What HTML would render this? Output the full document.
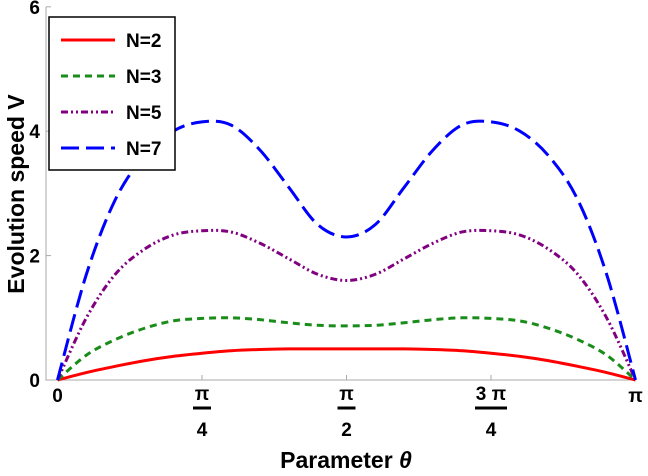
<!DOCTYPE html>
<html><head><meta charset="utf-8"><style>
body{margin:0;background:#fff}
text{font-family:"Liberation Sans",sans-serif;font-weight:bold}
</style></head><body>
<svg id="c" width="648" height="471">
<g id="g"></g>
</svg>
<script>
const thetaFrac=[0,0.05,0.1,0.15,0.2,0.25,0.3,0.35,0.4,0.45,0.5,0.55,0.6,0.65,0.7,0.75,0.8,0.85,0.9,0.95,1];
const half2=[0,0.12,0.22,0.31,0.38,0.43,0.47,0.49,0.5,0.5,0.5];
const half3=[0,0.4,0.65,0.83,0.95,0.99,1.0,0.97,0.92,0.88,0.87];
const half5=[0,1.0,1.7,2.1,2.33,2.4,2.38,2.2,1.95,1.7,1.6];
const half7=[0,1.7,2.9,3.6,4.0,4.15,4.1,3.7,3.1,2.5,2.3];
const yTicks=[0,2,4,6];
const legendLabels=["N=2","N=3","N=5","N=7"];
function mirror(h){return h.concat(h.slice(0,-1).reverse());}
const series=[mirror(half2),mirror(half3),mirror(half5),mirror(half7)];
const colors=["#ff0000","#1a8c1a","#800080","#0000ff"];
const dashes=["","7,5","7,3,2,3,2,3","18,7"];
const X=f=>57.5+f*578, Y=v=>380-v*62.2;
const NS="http://www.w3.org/2000/svg", g=document.getElementById('g');
function mk(t,a,p){const e=document.createElementNS(NS,t);for(const k in a)e.setAttribute(k,a[k]);(p||g).appendChild(e);return e;}
const fr=mk('path',{d:'M46,7V380H636',fill:'none',stroke:'#aaa','stroke-width':1});


yTicks.forEach(v=>{
 const t=mk('text',{x:40,y:Y(v)+7,'text-anchor':'end','font-size':19});t.textContent=v;
 
 
 mk('line',{x1:46,x2:51,y1:Y(v),y2:Y(v),stroke:'#aaa'});
});
[0.25,0.5,0.75].forEach(f=>mk('line',{x1:X(f),x2:X(f),y1:380,y2:375,stroke:'#aaa'}));
const xl=[[0,"0",null],[0.25,"π","4"],[0.5,"π","2"],[0.75,"3 π","4"],[1,"π",null]];
xl.forEach(([f,a,b])=>{
 if(b===null){const t=mk('text',{x:X(f),y:402,'text-anchor':'middle','font-size':19});t.textContent=a;
  
  }
 else{const t=mk('text',{x:X(f),y:400,'text-anchor':'middle','font-size':19});t.textContent=a;
  
  
  const w=a.length>1?32:18;mk('line',{x1:X(f)-w/2,x2:X(f)+w/2,y1:408,y2:408,stroke:'#000','stroke-width':3});
  const t2=mk('text',{x:X(f),y:436,'text-anchor':'middle','font-size':19});t2.textContent=b;
  
  }
});
const xt=mk('text',{x:346,y:468,'text-anchor':'middle','font-size':23});xt.innerHTML='Parameter <tspan font-style="italic">θ</tspan>';


const yt=mk('text',{transform:'translate(24,194) rotate(-90)','text-anchor':'middle','font-size':23});yt.textContent='Evolution speed V';


function smooth(pts){let d='M'+pts[0][0]+','+pts[0][1];
 for(let i=0;i<pts.length-1;i++){const p0=pts[Math.max(0,i-1)],p1=pts[i],p2=pts[i+1],p3=pts[Math.min(pts.length-1,i+2)];
  d+=`C${p1[0]+(p2[0]-p0[0])/6},${p1[1]+(p2[1]-p0[1])/6} ${p2[0]-(p3[0]-p1[0])/6},${p2[1]-(p3[1]-p1[1])/6} ${p2[0]},${p2[1]}`;}
 return d;}
series.forEach((s,i)=>{
 const p=mk('path',{d:smooth(s.map((v,j)=>[X(thetaFrac[j]),Y(v)])),fill:'none',stroke:colors[i],'stroke-width':3,'stroke-dasharray':dashes[i]});
 
 
});
const lg=mk('g',{});


mk('rect',{x:49,y:17,width:126,height:153,fill:'#fff',stroke:'#000','stroke-width':1.5},lg);
legendLabels.forEach((l,i)=>{
 const y=40+i*36;
 mk('line',{x1:61,x2:115,y1:y,y2:y,stroke:colors[i],'stroke-width':3,'stroke-dasharray':dashes[i]},lg);
 const t=mk('text',{x:126,y:y+7,'font-size':19},lg);t.textContent=l;
 
 
});
</script>
</body></html>
